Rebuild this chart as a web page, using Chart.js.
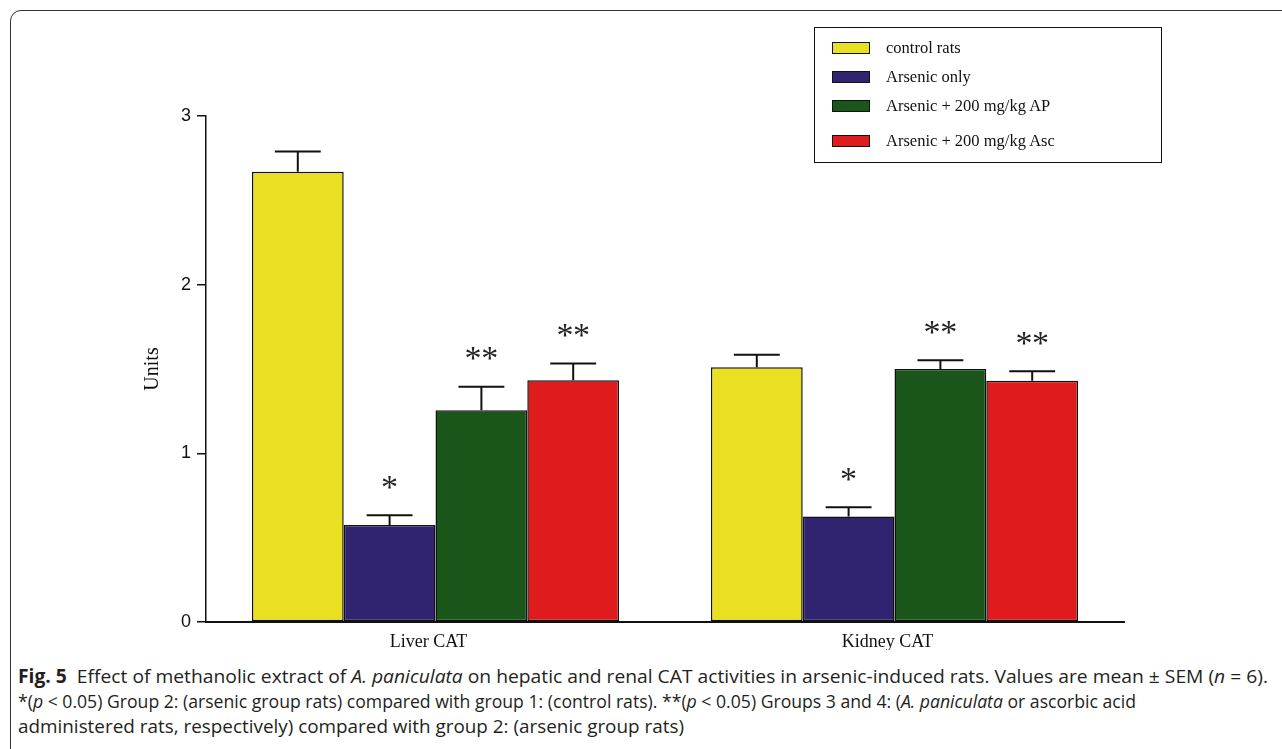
<!DOCTYPE html>
<html>
<head>
<meta charset="utf-8">
<script src="https://cdn.jsdelivr.net/npm/chart.js@4.4.1/dist/chart.umd.min.js"></script>
<style>
    body { margin: 0; background: #fff; width: 1282px; height: 749px; overflow: hidden; position: relative; }
    #frame { position: absolute; left: 10px; top: 10px; width: 1290px; height: 760px; border: 1.5px solid #333; border-radius: 11px; }
    #catChart { position: absolute; left: 0; top: 0; }
    #legend { position: absolute; left: 814px; top: 27px; width: 348px; height: 136px; border: 1.5px solid #111; box-sizing: border-box;
        font-family: "Liberation Serif", "Times New Roman", serif; font-size: 16.5px; color: #111; }
    .row { position: absolute; left: 17px; height: 20px; display: flex; align-items: center; }
    .sw { width: 36px; height: 10px; border: 1.5px solid #111; margin-right: 16px; }
    #caption { position: absolute; left: 18px; top: 664px; font-family: "Open Sans", "Noto Sans", sans-serif; font-size: 19px; line-height: 22px; color: #231f20; }
    .line { position: absolute; left: 0; white-space: nowrap; transform-origin: 0 0; }
</style>
</head>
<body>
<div id="frame"></div>
<canvas id="catChart" width="1282" height="650"></canvas>
<div id="legend"></div>
<div id="caption">
    <div class="line" style="top:1px"><b>Fig. 5</b>&nbsp; Effect of methanolic extract of <i>A. paniculata</i> on hepatic and renal CAT activities in arsenic-induced rats. Values are mean ± SEM (<i>n</i> = 6).</div>
    <div class="line" style="top:26px">*(<i>p</i> &lt; 0.05) Group 2: (arsenic group rats) compared with group 1: (control rats). **(<i>p</i> &lt; 0.05) Groups 3 and 4: (<i>A. paniculata</i> or ascorbic acid</div>
    <div class="line" style="top:51px">administered rats, respectively) compared with group 2: (arsenic group rats)</div>
</div>
<script>
// data
var categories = ['Liver CAT', 'Kidney CAT'];
var groupNames = ['control rats', 'Arsenic only', 'Arsenic + 200 mg/kg AP', 'Arsenic + 200 mg/kg Asc'];
var groupColors = ['#e8e020', '#302470', '#1a561a', '#e01b1d'];
var controlRats = [2.67, 1.51];
var arsenicOnly = [0.575, 0.626];
var arsenicAP = [1.255, 1.50];
var arsenicAsc = [1.433, 1.43];
var semControl = [0.12, 0.075];
var semArsenic = [0.058, 0.055];
var semAP = [0.14, 0.052];
var semAsc = [0.10, 0.056];
var starsControl = ['', ''];
var starsArsenic = ['*', '*'];
var starsAP = ['**', '**'];
var starsAsc = ['**', '**'];
var yTicks = [0, 1, 2, 3];

var seriesValues = [controlRats, arsenicOnly, arsenicAP, arsenicAsc];
var seriesSem = [semControl, semArsenic, semAP, semAsc];
var seriesStars = [starsControl, starsArsenic, starsAP, starsAsc];

// legend box
var legend = document.getElementById('legend');
var rowTops = [10, 39, 68, 103];
groupNames.forEach(function (name, i) {
    var row = document.createElement('div');
    row.className = 'row';
    row.style.top = rowTops[i] + 'px';
    row.innerHTML = '<span class="sw" style="background:' + groupColors[i] + '"></span>' + name;
    legend.appendChild(row);
});

// squeeze caption lines to the width of the condensed original
var lineWidths = [1250, 1118, 666];
document.querySelectorAll('#caption .line').forEach(function (el, i) {
    var w = el.getBoundingClientRect().width;
    el.style.transform = 'scaleX(' + (lineWidths[i] / w) + ')';
});

var errorBars = {
    id: 'errorBars',
    afterDatasetsDraw: function (chart) {
        var ctx = chart.ctx;
        var yScale = chart.scales.y;
        ctx.save();
        chart.data.datasets.forEach(function (ds, d) {
            chart.getDatasetMeta(d).data.forEach(function (bar, i) {
                var top = yScale.getPixelForValue(ds.data[i] + seriesSem[d][i]);
                var half = bar.width * 0.25;
                ctx.strokeStyle = '#111';
                ctx.lineWidth = 2;
                ctx.beginPath();
                ctx.moveTo(bar.x, bar.y);
                ctx.lineTo(bar.x, top);
                ctx.moveTo(bar.x - half, top);
                ctx.lineTo(bar.x + half, top);
                ctx.stroke();
                var s = seriesStars[d][i];
                if (!s) return;
                ctx.fillStyle = '#222';
                ctx.font = '34px "Liberation Serif", serif';
                ctx.textAlign = 'center';
                ctx.textBaseline = 'alphabetic';
                var m = ctx.measureText('*');
                var shift = (m.actualBoundingBoxAscent - m.actualBoundingBoxDescent) / 2;
                var cy = top - 33 + shift;
                for (var k = 0; k < s.length; k++) {
                    ctx.fillText('*', bar.x + (k - (s.length - 1) / 2) * 16.6, cy);
                }
            });
        });
        ctx.restore();
    }
};

var ctx = document.getElementById('catChart').getContext('2d');
new Chart(ctx, {
    type: 'bar',
    data: {
        labels: categories,
        datasets: groupNames.map(function (name, i) {
            return {
                label: name,
                data: seriesValues[i],
                backgroundColor: groupColors[i],
                borderColor: '#111',
                borderWidth: 1.5,
                borderSkipped: false,
                categoryPercentage: 0.8,
                barPercentage: 1.0
            };
        })
    },
    options: {
        responsive: false,
        animation: false,
        layout: { padding: { left: 141, top: 116, right: 158, bottom: 0 } },
        plugins: {
            legend: { display: false },
            tooltip: { enabled: false }
        },
        scales: {
            x: {
                grid: { display: false, drawTicks: false },
                border: { display: true, color: '#111', width: 2 },
                ticks: { color: '#111', padding: 9, labelOffset: -7, font: { family: '"Liberation Serif", serif', size: 18 } },
                afterFit: function (s) { s.height = 28; }
            },
            y: {
                min: 0,
                max: 3,
                afterBuildTicks: function (s) { s.ticks = yTicks.map(function (v) { return { value: v }; }); },
                grid: { drawOnChartArea: false, drawTicks: true, tickLength: 9, color: '#111', lineWidth: 1.5 },
                border: { display: true, color: '#111', width: 1.5 },
                ticks: { color: '#111', padding: 6, font: { family: '"Liberation Sans", Arial, sans-serif', size: 18 } },
                title: { display: true, text: 'Units', color: '#111', padding: 0, font: { family: '"Liberation Serif", serif', size: 20, weight: 'normal' } },
                afterFit: function (s) { s.width = 65; }
            }
        }
    },
    plugins: [errorBars]
});
</script>
</body>
</html>
